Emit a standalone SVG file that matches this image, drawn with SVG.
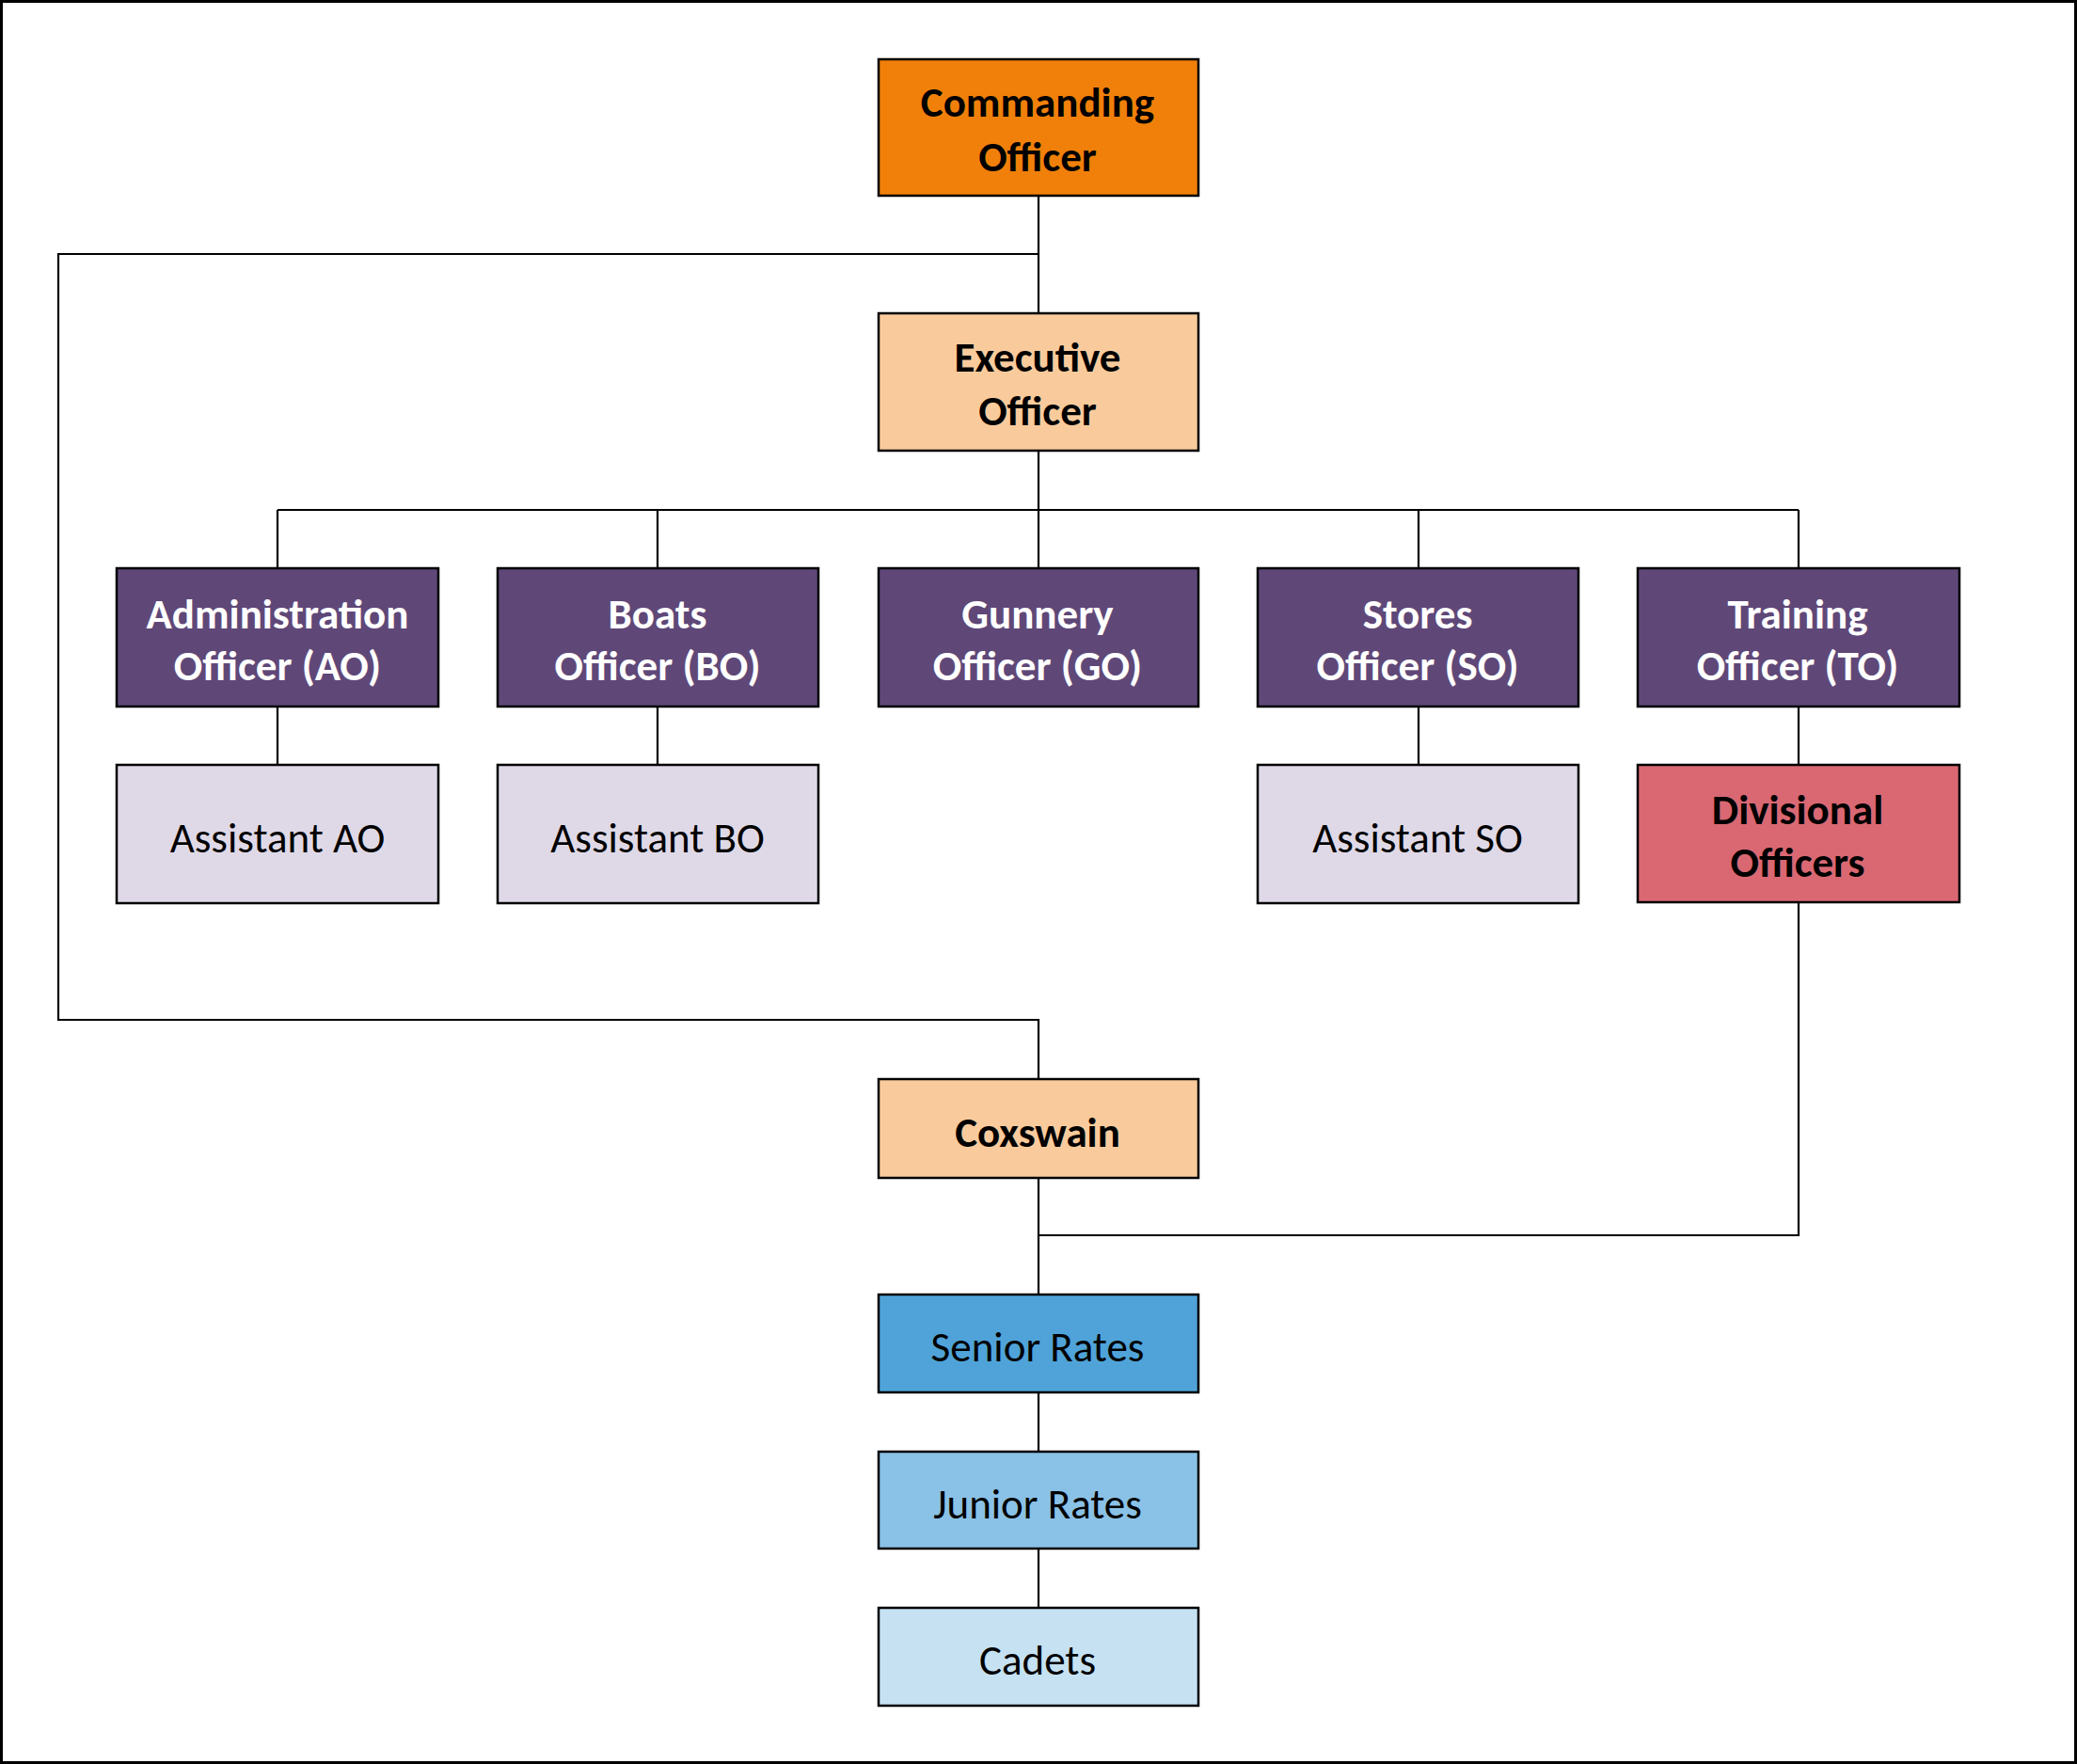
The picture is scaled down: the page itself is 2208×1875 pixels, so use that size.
<svg xmlns="http://www.w3.org/2000/svg" width="2208" height="1875" viewBox="0 0 2208 1875">
<style>
.box{stroke:#000;stroke-width:2.5}
.t{font-family:Carlito,Lato,"Liberation Sans",sans-serif;font-size:45px;text-anchor:middle}
.b{font-weight:bold}
.w{fill:#fff}
.k{fill:#000}
.c{fill:none;stroke:#000;stroke-width:2.2}
</style>
<rect x="0" y="0" width="2208" height="1875" fill="#fff"/>
<rect x="1.5" y="1.5" width="2205" height="1872" fill="none" stroke="#000" stroke-width="3"/>
<g id="connectors" class="c">
<path d="M1104 208 V333"/>
<path d="M1104 270 H62 V1084 H1104 V1147"/>
<path d="M1104 479 V542"/>
<path d="M295 542 H1912"/>
<path d="M295 542 V604 M699 542 V604 M1104 542 V604 M1508 542 V604 M1912 542 V604"/>
<path d="M295 751 V813 M699 751 V813 M1508 751 V813 M1912 751 V813"/>
<path d="M1912 959 V1313 H1104"/>
<path d="M1104 1252 V1376 M1104 1480 V1543 M1104 1646 V1709"/>
</g>
<g id="co"><rect class="box" x="934" y="63" width="340" height="145" fill="#F0800A"/><text class="t b k" x="1103" y="124">Commanding</text><text class="t b k" x="1103" y="182">Officer</text></g>
<g id="eo"><rect class="box" x="934" y="333" width="340" height="146" fill="#F9CB9C"/><text class="t b k" x="1103" y="395">Executive</text><text class="t b k" x="1103" y="452">Officer</text></g>
<g id="ao"><rect class="box" x="124" y="604" width="342" height="147" fill="#5F4878"/><text class="t b w" x="295" y="668">Administration</text><text class="t b w" x="295" y="723">Officer (AO)</text></g>
<g id="bo"><rect class="box" x="529" y="604" width="341" height="147" fill="#5F4878"/><text class="t b w" x="699" y="668">Boats</text><text class="t b w" x="699" y="723">Officer (BO)</text></g>
<g id="go"><rect class="box" x="934" y="604" width="340" height="147" fill="#5F4878"/><text class="t b w" x="1103" y="668">Gunnery</text><text class="t b w" x="1103" y="723">Officer (GO)</text></g>
<g id="so"><rect class="box" x="1337" y="604" width="341" height="147" fill="#5F4878"/><text class="t b w" x="1507" y="668">Stores</text><text class="t b w" x="1507" y="723">Officer (SO)</text></g>
<g id="to"><rect class="box" x="1741" y="604" width="342" height="147" fill="#5F4878"/><text class="t b w" x="1911" y="668">Training</text><text class="t b w" x="1911" y="723">Officer (TO)</text></g>
<g id="aao"><rect class="box" x="124" y="813" width="342" height="147" fill="#DFD9E7"/><text class="t k" x="295" y="906">Assistant AO</text></g>
<g id="abo"><rect class="box" x="529" y="813" width="341" height="147" fill="#DFD9E7"/><text class="t k" x="699" y="906">Assistant BO</text></g>
<g id="aso"><rect class="box" x="1337" y="813" width="341" height="147" fill="#DFD9E7"/><text class="t k" x="1507" y="906">Assistant SO</text></g>
<g id="do"><rect class="box" x="1741" y="813" width="342" height="146" fill="#D96873"/><text class="t b k" x="1911" y="876">Divisional</text><text class="t b k" x="1911" y="932">Officers</text></g>
<g id="cox"><rect class="box" x="934" y="1147" width="340" height="105" fill="#F9CB9C"/><text class="t b k" x="1103" y="1219">Coxswain</text></g>
<g id="sr"><rect class="box" x="934" y="1376" width="340" height="104" fill="#4FA3D8"/><text class="t k" x="1103" y="1447">Senior Rates</text></g>
<g id="jr"><rect class="box" x="934" y="1543" width="340" height="103" fill="#8AC1E6"/><text class="t k" x="1103" y="1614">Junior Rates</text></g>
<g id="cd"><rect class="box" x="934" y="1709" width="340" height="104" fill="#C5E1F2"/><text class="t k" x="1103" y="1780">Cadets</text></g>
</svg>
